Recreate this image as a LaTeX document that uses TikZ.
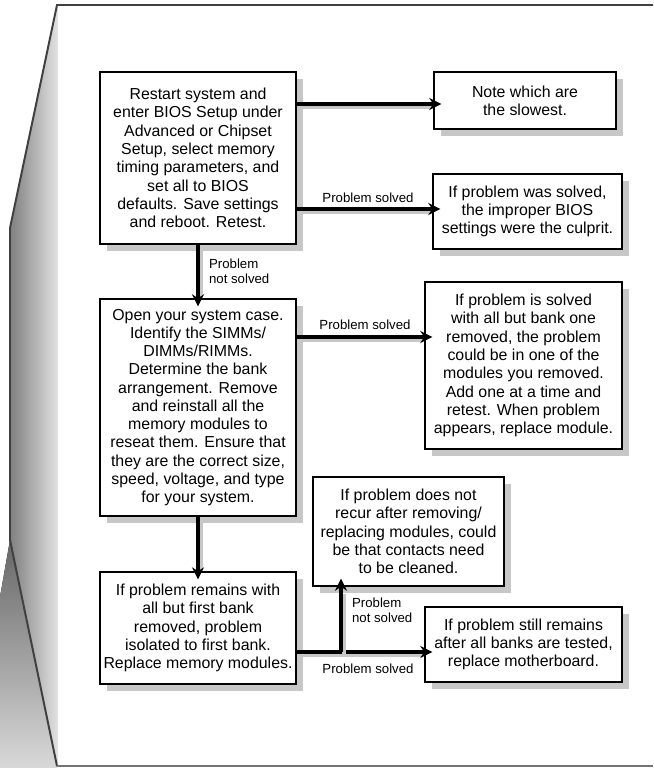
\documentclass[tikz,border=0pt]{standalone}
\usepackage{fontspec}
\setmainfont{Liberation Sans}
\usetikzlibrary{positioning,arrows.meta,shadows}

\begin{document}
\begin{tikzpicture}[x=0.025cm, y=-0.025cm,
		box/.style={draw, line width=1.6pt, fill=white, inner sep=0pt, align=center,
			font=\fontsize{11.3}{13}\selectfont,
			drop shadow={shadow xshift=5pt, shadow yshift=-5pt, opacity=1, fill=black!22}},
		lbl/.style={font=\fontsize{9.4}{10.4}\selectfont, inner sep=2pt, align=left},
		flow/.style={draw=black, line width=2.4pt, -{Stealth[length=8.5pt, width=8.5pt]}, shorten >=-6pt},
		flowshadow/.style={draw=black!22, line width=2.4pt, shorten >=3pt,
			transform canvas={xshift=2.2pt, yshift=-2.2pt}}]
	
	\useasboundingbox (0,0) rectangle (653,768);
	\fill[left color=black!50, right color=black!12] (57,5) -- (10,228) -- (10,540) -- (57,766) -- cycle;
	\fill[top color=black!60, bottom color=black!15] (10,540) -- (57,768) -- (0,768) -- (0,597) -- cycle;
	\draw[line width=1.4pt, black!75] (653,5) -- (57,5) -- (10,228) -- (10,540) -- (57,766);
	\draw[line width=1pt, black!55] (57,766) -- (653,766);
	
	\node[box, minimum width=4.9cm, minimum height=4.3cm] (bios) at (198,158)
		{Restart system and\\enter BIOS Setup under\\Advanced or Chipset\\Setup, select memory\\timing parameters, and\\set all to BIOS\\defaults. Save settings\\and reboot. Retest.};
	\node[box, minimum width=4.9cm, minimum height=5.425cm] (open) at (198,407.5)
		{Open your system case.\\Identify the SIMMs/\\DIMMs/RIMMs.\\Determine the bank\\arrangement. Remove\\and reinstall all the\\memory modules to\\reseat them. Ensure that\\they are the correct size,\\speed, voltage, and type\\for your system.};
	\node[box, minimum width=4.9cm, minimum height=2.8cm] (first) at (198,628)
		{If problem remains with\\all but first bank\\removed, problem\\isolated to first bank.\\Replace memory modules.};
	\node[box, minimum width=4.55cm, minimum height=1.425cm] (note) at (525,100.5)
		{Note which are\\the slowest.};
	\node[box, minimum width=4.725cm, minimum height=1.875cm] (culprit) at (527.5,211.5)
		{If problem was solved,\\the improper BIOS\\settings were the culprit.};
	\node[box, minimum width=4.925cm, minimum height=4.175cm] (bankone) at (523.5,365.5)
		{If problem is solved\\with all but bank one\\removed, the problem\\could be in one of the\\modules you removed.\\Add one at a time and\\retest. When problem\\appears, replace module.};
	\node[box, minimum width=4.775cm, minimum height=2.725cm] (contacts) at (408.5,531.5)
		{If problem does not\\recur after removing/\\replacing modules, could\\be that contacts need\\to be cleaned.};
	\node[box, minimum width=4.925cm, minimum height=1.875cm] (mobo) at (523.5,644.5)
		{If problem still remains\\after all banks are tested,\\replace motherboard.};
	\coordinate (split) at (341,652);
	
	\foreach \a/\b in {{bios.east |- 0,104}/{note.west |- 0,104},
			{bios.east |- 0,209}/{culprit.west |- 0,209},
			bios.south/open.north,
			{open.east |- 0,337}/{bankone.west |- 0,337},
			open.south/first.north,
			{first.east |- split}/{mobo.west |- split},
			split/{split |- contacts.south}} {
		\draw[flowshadow] (\a) -- (\b);
		\draw[flow] (\a) -- (\b);
	}
	
	\node[lbl, anchor=west] (nos1) at (206,271) {Problem\\not solved};
	\node[lbl] (sol1) at (368,198) {Problem solved};
	\node[lbl] (sol2) at (365,325) {Problem solved};
	\node[lbl] (sol3) at (368,669) {Problem solved};
	\node[lbl, anchor=west] (nos2) at (349,610) {Problem\\not solved};
\end{tikzpicture}
\end{document}
